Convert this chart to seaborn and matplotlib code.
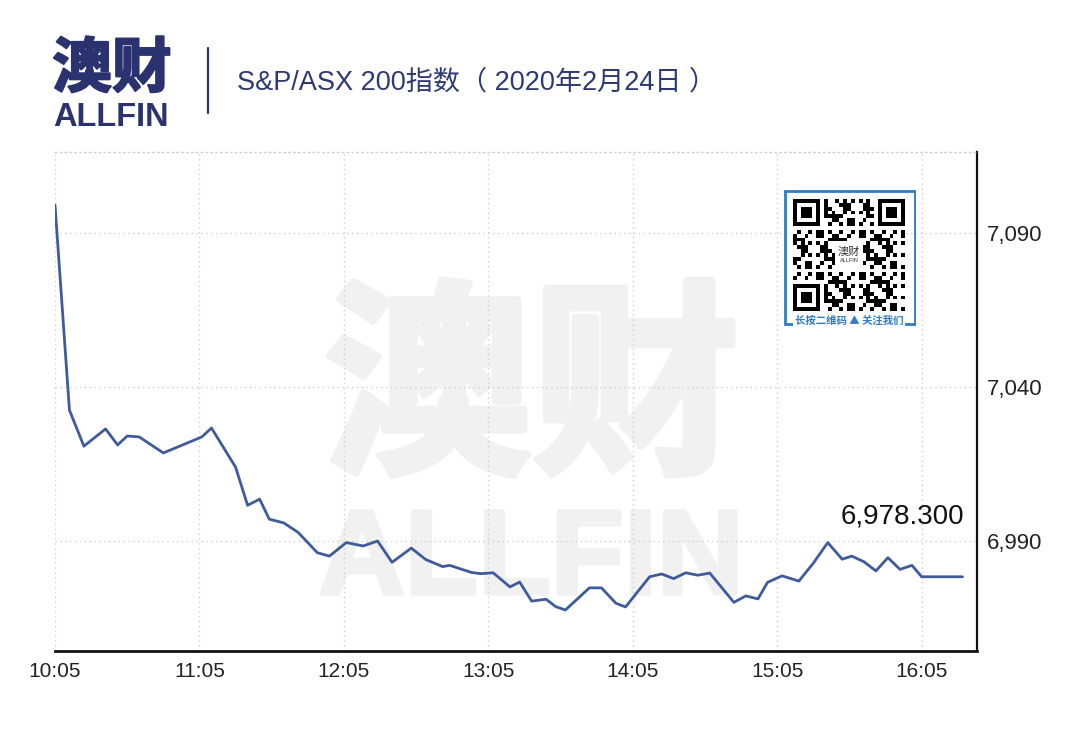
import numpy as np
import pandas as pd
import matplotlib
matplotlib.use("Agg")
import matplotlib.pyplot as plt
import matplotlib.patheffects as pe
from matplotlib.patches import Rectangle
import seaborn as sns

# ---------------- data ----------------
times = ["10:05", "10:11", "10:17", "10:26", "10:31", "10:35", "10:40", "10:50",
         "11:06", "11:10", "11:20", "11:25", "11:30", "11:34", "11:40", "11:46",
         "11:54", "11:59", "12:06", "12:13", "12:19", "12:25", "12:33", "12:39",
         "12:46", "12:49", "12:58", "13:02", "13:07", "13:14", "13:18", "13:23",
         "13:29", "13:33", "13:37", "13:47", "13:52", "13:58", "14:02", "14:12",
         "14:17", "14:22", "14:27", "14:32", "14:37", "14:47", "14:52", "14:57",
         "15:01", "15:07", "15:14", "15:20", "15:26", "15:32", "15:36", "15:41",
         "15:46", "15:51", "15:56", "16:01", "16:05", "16:22"]
values = [7099.0, 7032.4, 7020.7, 7026.3, 7021.1, 7024.0, 7023.7, 7018.5,
          7023.7, 7026.6, 7013.9, 7001.5, 7003.5, 6997.0, 6995.8, 6992.7,
          6986.1, 6985.0, 6989.4, 6988.3, 6989.9, 6983.0, 6987.6, 6983.9,
          6981.6, 6982.0, 6979.7, 6979.3, 6979.6, 6975.0, 6976.6, 6970.4,
          6971.0, 6968.6, 6967.5, 6974.7, 6974.7, 6969.7, 6968.5, 6978.3,
          6979.2, 6977.7, 6979.6, 6978.8, 6979.5, 6970.0, 6972.1, 6971.1,
          6976.5, 6978.6, 6976.9, 6982.7, 6989.4, 6984.0, 6985.0, 6983.2,
          6980.2, 6984.5, 6980.7, 6982.0, 6978.3, 6978.3]
x_tick_labels = ["10:05", "11:05", "12:05", "13:05", "14:05", "15:05", "16:05"]
y_ticks = [6990, 7040, 7090]
x_range = ["10:05", "16:28"]
y_range = [6954.2, 7116.2]

title = "S&P/ASX 200指数（ 2020年2月24日 ）"
logo_cn = "澳财"
logo_en = "ALLFIN"
qr_caption = "长按二维码 ▲ 关注我们"


def to_min(s):
    h, m = s.split(":")
    return int(h) * 60 + int(m)


df = pd.DataFrame({"minute": [to_min(t) for t in times], "value": values})

# ---------------- style ----------------
sns.set_theme(style="white")
plt.rcParams["font.family"] = ["Liberation Sans", "Noto Sans CJK SC", "DejaVu Sans"]

W, H = 1067, 733
fig = plt.figure(figsize=(W / 100, H / 100), dpi=100)
fig.patch.set_facecolor("white")

ax = fig.add_axes([55 / W, 1 - 651 / H, (977 - 55) / W, (651 - 152) / H])
ax.set_facecolor("none")

line_color = "#3f5b9c"
navy = "#2b3270"

sns.lineplot(data=df, x="minute", y="value", ax=ax, color=line_color,
             linewidth=2.0, zorder=3)

ax.set_xlim(to_min(x_range[0]), to_min(x_range[1]))
ax.set_ylim(*y_range)
ax.set_xlabel("")
ax.set_ylabel("")

ax.set_xticks([to_min(t) for t in x_tick_labels])
ax.set_xticklabels(x_tick_labels)
ax.set_yticks(y_ticks)
ax.set_yticklabels([f"{v:,}" for v in y_ticks])
ax.yaxis.tick_right()

ax.tick_params(axis="x", length=0, pad=8, labelsize=15, labelcolor="#222222")
ax.tick_params(axis="y", length=0, pad=7, labelsize=16, labelcolor="#222222")

ax.set_axisbelow(True)
ax.grid(True, color="#cfcfcf", linestyle=(0, (1, 2.5)), linewidth=1.0)

ax.spines["left"].set_visible(False)
ax.spines["top"].set_color("#cfcfcf")
ax.spines["top"].set_linestyle((0, (1, 2.5)))
ax.spines["top"].set_linewidth(1.0)
ax.spines["bottom"].set_color("#111111")
ax.spines["bottom"].set_linewidth(2.0)
ax.spines["right"].set_color("#111111")
ax.spines["right"].set_linewidth(1.6)

# last value annotation
ax.annotate(f"{df['value'].iloc[-1]:,.3f}",
            xy=(df["minute"].iloc[-1], df["value"].iloc[-1]),
            xytext=(2, 47), textcoords="offset pixels",
            ha="right", va="bottom", fontsize=20, color="#111111", zorder=5)

# watermark
wm_color = "#f1f1f1"
ax.text(532 / W, 1 - 396 / H, logo_cn, transform=fig.transFigure,
        ha="center", va="center", fontsize=150, fontweight="bold",
        color=wm_color, zorder=0.1, family=["Noto Sans CJK SC"],
        path_effects=[pe.withStroke(linewidth=5, foreground=wm_color)])
ax.text(531 / W, 1 - 563 / H, logo_en, transform=fig.transFigure,
        ha="center", va="center", fontsize=86, fontweight="bold",
        color=wm_color, zorder=0.1,
        path_effects=[pe.withStroke(linewidth=3, foreground=wm_color)])

# header: logo, separator, title
fig.text(112 / W, 1 - 70 / H, logo_cn, ha="center", va="center", fontsize=43,
         fontweight="bold", color=navy, family=["Noto Sans CJK SC"],
         path_effects=[pe.withStroke(linewidth=1.5, foreground=navy)])
fig.text(111 / W, 1 - 117 / H, logo_en, ha="center", va="center", fontsize=23.5,
         fontweight="bold", color=navy)
fig.add_artist(plt.Line2D([208 / W, 208 / W], [1 - 48 / H, 1 - 113 / H],
                          transform=fig.transFigure, color=navy, linewidth=1.6))
fig.text(237 / W, 1 - 82 / H, title, ha="left", va="center", fontsize=19.5,
         color="#2d3a72")

# QR code badge (decorative)
qax = fig.add_axes([783 / W, 1 - 328 / H, 133 / W, 139 / H])
qax.set_xlim(0, 133)
qax.set_ylim(139, 0)
qax.axis("off")
qblue = "#2f7cc6"
qax.add_patch(Rectangle((1.5, 1.5), 130, 133, fill=False, edgecolor=qblue, linewidth=2))
N = 29
ii, jj = np.meshgrid(np.arange(N), np.arange(N), indexing="ij")
mat = (((ii * 31 + jj * 17 + ii * jj * 7) % 11) < 5).astype(float)
for (r, c) in [(0, 0), (0, N - 7), (N - 7, 0)]:
    r0, r1 = max(r - 1, 0), min(r + 8, N)
    c0, c1 = max(c - 1, 0), min(c + 8, N)
    mat[r0:r1, c0:c1] = 0
    mat[r:r + 7, c:c + 7] = 1
    mat[r + 1:r + 6, c + 1:c + 6] = 0
    mat[r + 2:r + 5, c + 2:c + 5] = 1
mat[11:18, 11:18] = 0
qax.imshow(mat, cmap="Greys", vmin=0, vmax=1, extent=(10, 122, 122, 10),
           interpolation="nearest", zorder=1)
qax.text(66, 63, "澳财", ha="center", va="center", fontsize=8, color="#333333",
         family=["Noto Sans CJK SC"], zorder=2)
qax.text(66, 72, "ALLFIN", ha="center", va="center", fontsize=4, color="#333333",
         zorder=2)
qax.text(66, 132, qr_caption, ha="center", va="center", fontsize=7.5,
         fontweight="bold", color=qblue, family=["Noto Sans CJK SC", "DejaVu Sans"],
         bbox=dict(facecolor="white", edgecolor="none", pad=1.5), zorder=3)

fig.savefig("out.png", dpi=100, facecolor="white")
